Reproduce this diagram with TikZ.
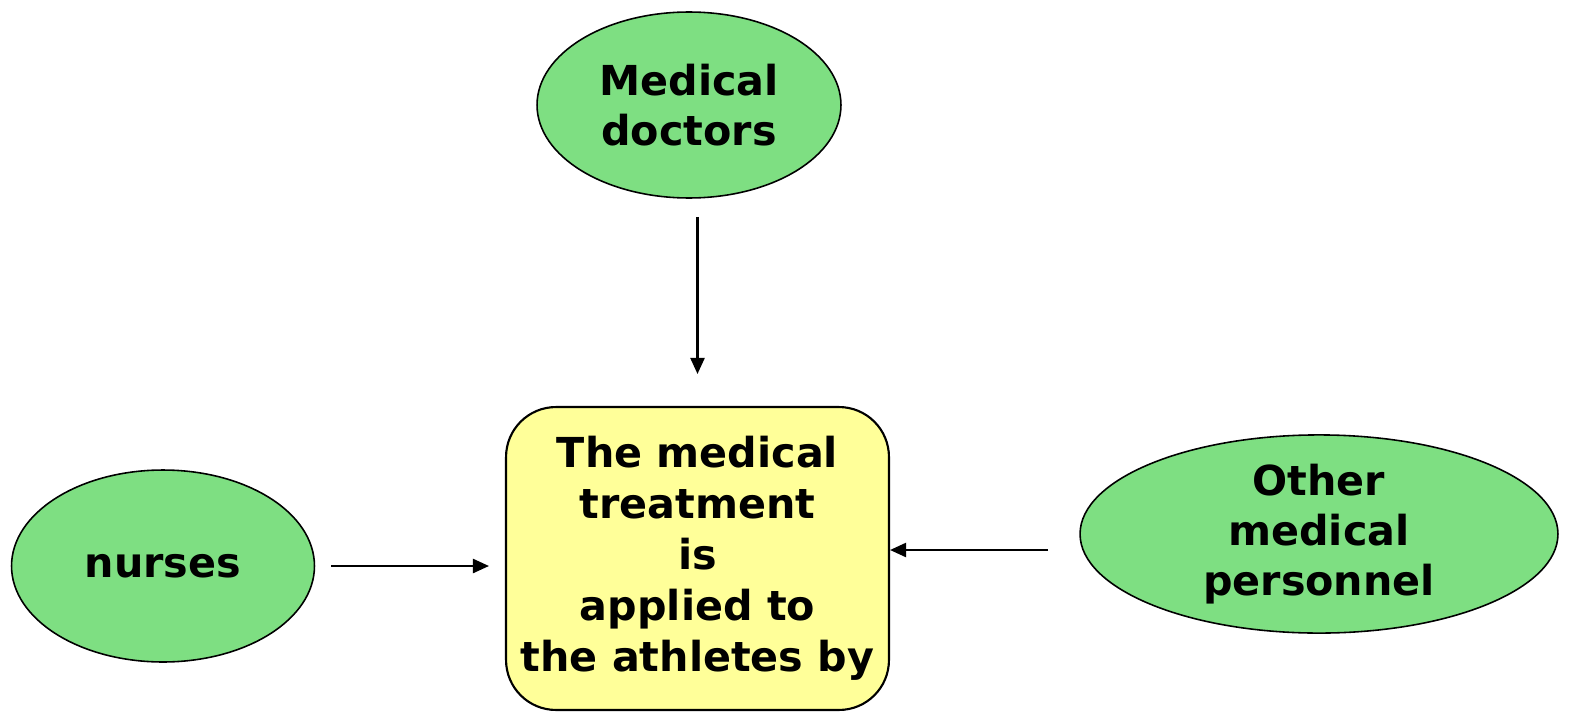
\documentclass[tikz,border=0pt]{standalone}
\usepackage{fontspec}
\setmainfont{DejaVu Sans}
\usetikzlibrary{shapes.geometric,arrows.meta,calc}
\definecolor{leafgreen}{HTML}{7EDF82}
\definecolor{paleyellow}{HTML}{FFFF99}
\tikzset{
  who/.style={draw=black,fill=leafgreen,shape=ellipse,line width=0.9pt,
    align=center,font=\fontsize{23.5}{28.5}\selectfont\bfseries,inner sep=0pt},
  arr/.style={-{Triangle[length=0.32cm,width=0.28cm]},line width=1.3pt}
}
\begin{document}
  \begin{tikzpicture}[x=0.02cm,y=-0.02cm]
    \useasboundingbox (0,0) rectangle (1574,713);
    \node[draw=black,fill=paleyellow,rounded corners=1cm,line width=1.2pt,
      minimum width=7.66cm,minimum height=6.06cm,align=center,
      font=\fontsize{23.5}{29}\selectfont\bfseries] (box) at (697.5,558.5)
      {The medical\\treatment\\is\\applied to\\the athletes by};
    \node[who,minimum width=6.08cm,minimum height=3.72cm] (doc) at (689,105) {Medical\\doctors};
    \node[who,minimum width=6.06cm,minimum height=3.84cm] (nur) at (163,566) {nurses};
    \node[who,minimum width=9.56cm,minimum height=3.84cm] (oth) at (1319,534) {Other\\medical\\personnel};
    \draw[arr,shorten <=0.36cm,shorten >=0.64cm] (doc.south -| box.north) -- (box.north);
    \draw[arr,shorten <=0.32cm,shorten >=0.32cm] (nur.east) -- (nur.east -| box.west);
    \coordinate (o1) at (1048,550);
    \draw[arr] (o1) -- (o1 -| box.east);
  \end{tikzpicture}
\end{document}
